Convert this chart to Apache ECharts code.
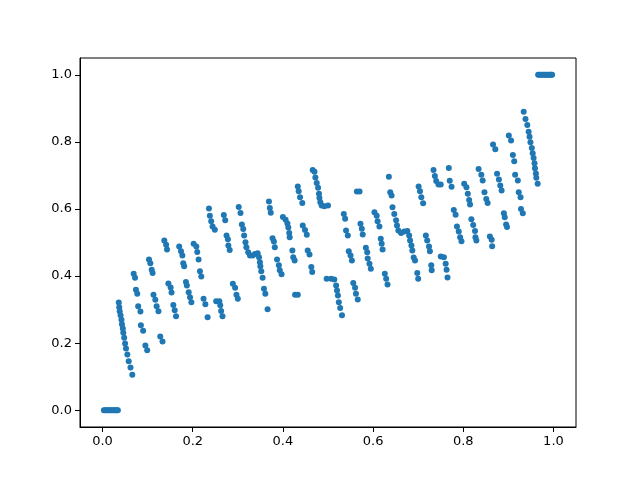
<!DOCTYPE html>
<html>
<head>
<meta charset="utf-8">
<script src="https://cdn.jsdelivr.net/npm/echarts@6/dist/echarts.min.js"></script>
<style>
    html, body {margin: 0; padding: 0; background: #fff;}
    #chart {width: 640px; height: 480px;}
</style>
</head>
<body>
<div id="chart"></div>
<script>
    // tick labels
    const xTicks = [0, 0.2, 0.4, 0.6, 0.8, 1.0];
    const yTicks = [0, 0.2, 0.4, 0.6, 0.8, 1.0];

    // bottom flat run + first steep drop
    const startPoints = [
        [0.003, 0], [0.006, 0], [0.009, 0], [0.012, 0], [0.015, 0], [0.018, 0],
        [0.021, 0], [0.024, 0], [0.027, 0], [0.030, 0], [0.032, 0], [0.034, 0],
        [0.036, 0.321], [0.037, 0.307], [0.038, 0.295], [0.040, 0.283], [0.042, 0.270],
        [0.043, 0.256], [0.045, 0.244], [0.046, 0.231], [0.048, 0.216], [0.050, 0.199],
        [0.052, 0.184], [0.055, 0.166], [0.058, 0.146], [0.062, 0.127], [0.066, 0.106]
    ];

    // middle clusters, left half
    const leftPoints = [
        [0.069, 0.407], [0.072, 0.395],
        [0.074, 0.359], [0.077, 0.347],
        [0.079, 0.310], [0.084, 0.294],
        [0.085, 0.253], [0.090, 0.237],
        [0.095, 0.193], [0.099, 0.179],
        [0.103, 0.449], [0.106, 0.438], [0.109, 0.419], [0.111, 0.409],
        [0.113, 0.344], [0.117, 0.329], [0.120, 0.310], [0.124, 0.295],
        [0.128, 0.220], [0.133, 0.205],
        [0.137, 0.506], [0.141, 0.493], [0.143, 0.479],
        [0.146, 0.378], [0.151, 0.366], [0.153, 0.351],
        [0.157, 0.314], [0.160, 0.298], [0.163, 0.280],
        [0.170, 0.488], [0.174, 0.474], [0.177, 0.461], [0.179, 0.438], [0.181, 0.429],
        [0.185, 0.382], [0.187, 0.372], [0.191, 0.352], [0.194, 0.337], [0.197, 0.322],
        [0.202, 0.496], [0.208, 0.488], [0.210, 0.472], [0.213, 0.449], [0.216, 0.414], [0.219, 0.399],
        [0.224, 0.332], [0.228, 0.316], [0.233, 0.277],
        [0.236, 0.601], [0.238, 0.580], [0.241, 0.563], [0.244, 0.548], [0.249, 0.538],
        [0.252, 0.325], [0.259, 0.325], [0.261, 0.313], [0.263, 0.296], [0.266, 0.280],
        [0.269, 0.582], [0.272, 0.566],
        [0.275, 0.521], [0.278, 0.510], [0.279, 0.491], [0.282, 0.478],
        [0.289, 0.377], [0.294, 0.365], [0.297, 0.344], [0.300, 0.332],
        [0.302, 0.606], [0.306, 0.588],
        [0.309, 0.554], [0.312, 0.540], [0.314, 0.521], [0.317, 0.501], [0.319, 0.486],
        [0.323, 0.471], [0.327, 0.461], [0.333, 0.461], [0.338, 0.466], [0.344, 0.468],
        [0.347, 0.456], [0.349, 0.441], [0.350, 0.429], [0.352, 0.414], [0.355, 0.395],
        [0.358, 0.362], [0.361, 0.347],
        [0.366, 0.301],
        [0.369, 0.622], [0.371, 0.603], [0.373, 0.589],
        [0.377, 0.513], [0.380, 0.503], [0.382, 0.486],
        [0.387, 0.449], [0.391, 0.432], [0.393, 0.417], [0.397, 0.405],
        [0.400, 0.576], [0.406, 0.568], [0.410, 0.557], [0.412, 0.545], [0.414, 0.528], [0.415, 0.516],
        [0.421, 0.476], [0.423, 0.456], [0.426, 0.446],
        [0.427, 0.344], [0.433, 0.344],
        [0.433, 0.667], [0.435, 0.653], [0.438, 0.635], [0.443, 0.618],
        [0.444, 0.551], [0.449, 0.537], [0.453, 0.523],
        [0.455, 0.476], [0.459, 0.464],
        [0.463, 0.427], [0.465, 0.412],
        [0.466, 0.716], [0.470, 0.711], [0.472, 0.694], [0.475, 0.677], [0.478, 0.663],
        [0.480, 0.645], [0.481, 0.633], [0.483, 0.620], [0.486, 0.610], [0.492, 0.608], [0.500, 0.610]
    ];

    // middle clusters, right half
    const rightPoints = [
        [0.497, 0.392], [0.507, 0.392], [0.514, 0.390], [0.518, 0.372], [0.520, 0.357],
        [0.522, 0.342], [0.524, 0.322], [0.527, 0.305], [0.531, 0.283],
        [0.535, 0.585], [0.538, 0.571],
        [0.540, 0.536], [0.544, 0.521],
        [0.546, 0.474], [0.550, 0.461], [0.553, 0.446],
        [0.556, 0.379], [0.560, 0.365], [0.562, 0.347], [0.566, 0.330],
        [0.564, 0.652], [0.570, 0.652],
        [0.572, 0.556], [0.575, 0.541], [0.577, 0.524],
        [0.584, 0.484], [0.587, 0.471], [0.588, 0.452], [0.592, 0.437], [0.595, 0.422],
        [0.603, 0.590], [0.608, 0.580], [0.610, 0.563], [0.614, 0.548],
        [0.617, 0.511], [0.619, 0.496], [0.621, 0.479],
        [0.626, 0.407], [0.629, 0.392], [0.632, 0.375],
        [0.635, 0.696],
        [0.638, 0.650], [0.641, 0.640],
        [0.643, 0.605], [0.647, 0.585], [0.651, 0.566], [0.653, 0.551], [0.656, 0.536],
        [0.662, 0.528], [0.669, 0.533], [0.676, 0.534], [0.680, 0.521], [0.682, 0.506],
        [0.685, 0.491], [0.687, 0.476], [0.690, 0.455], [0.693, 0.446],
        [0.698, 0.409], [0.700, 0.392],
        [0.701, 0.667], [0.704, 0.653], [0.707, 0.635], [0.711, 0.617],
        [0.717, 0.521], [0.720, 0.506], [0.724, 0.488], [0.726, 0.474],
        [0.729, 0.432], [0.730, 0.417],
        [0.734, 0.716], [0.737, 0.698], [0.740, 0.683], [0.745, 0.673], [0.750, 0.673],
        [0.750, 0.458], [0.757, 0.456], [0.761, 0.437], [0.763, 0.419], [0.765, 0.396],
        [0.768, 0.722], [0.770, 0.684], [0.774, 0.666],
        [0.779, 0.597], [0.783, 0.583],
        [0.786, 0.548], [0.790, 0.533], [0.793, 0.516], [0.796, 0.504],
        [0.802, 0.675], [0.807, 0.665], [0.810, 0.645], [0.813, 0.627], [0.815, 0.613],
        [0.818, 0.569], [0.822, 0.552], [0.826, 0.534], [0.827, 0.516], [0.829, 0.506],
        [0.834, 0.719], [0.840, 0.702], [0.843, 0.685],
        [0.847, 0.650], [0.851, 0.630], [0.854, 0.618],
        [0.859, 0.518], [0.863, 0.508], [0.864, 0.489],
        [0.866, 0.792], [0.871, 0.778],
        [0.875, 0.705], [0.879, 0.688], [0.882, 0.670], [0.885, 0.655],
        [0.890, 0.587], [0.892, 0.575], [0.895, 0.554], [0.897, 0.546],
        [0.901, 0.819], [0.906, 0.804],
        [0.910, 0.761], [0.913, 0.742],
        [0.915, 0.702], [0.921, 0.685],
        [0.923, 0.650], [0.927, 0.635],
        [0.928, 0.600], [0.932, 0.587]
    ];

    // last steep drop + top flat run
    const endPoints = [
        [0.934, 0.890], [0.938, 0.868], [0.942, 0.850], [0.945, 0.830], [0.947, 0.815],
        [0.949, 0.799], [0.952, 0.782], [0.954, 0.766], [0.956, 0.752], [0.958, 0.736],
        [0.959, 0.721], [0.961, 0.706], [0.962, 0.693], [0.965, 0.675],
        [0.966, 1], [0.969, 1], [0.972, 1], [0.975, 1], [0.978, 1], [0.981, 1],
        [0.984, 1], [0.987, 1], [0.990, 1], [0.993, 1], [0.995, 1], [0.997, 1]
    ];

    const points = startPoints.concat(leftPoints, rightPoints, endPoints);

    const labelFont = {color: '#000', fontSize: 13, fontFamily: 'DejaVu Sans'};

    let myChart = echarts.init(document.getElementById('chart'));
    myChart.setOption({
        animation: false,
        backgroundColor: '#fff',
        grid: {left: 80, right: 64, top: 58, bottom: 53, show: true, borderColor: '#000', borderWidth: 1},
        xAxis: {
            type: 'value',
            min: -0.05,
            max: 1.05,
            axisLine: {show: true, onZero: false, lineStyle: {color: '#000', width: 1}},
            splitLine: {show: false},
            axisTick: {show: true, customValues: xTicks, length: 5, lineStyle: {color: '#000'}},
            axisLabel: Object.assign({customValues: xTicks, margin: 8, formatter: v => v.toFixed(1)}, labelFont)
        },
        yAxis: {
            type: 'value',
            min: -0.05,
            max: 1.05,
            axisLine: {show: true, onZero: false, lineStyle: {color: '#000', width: 1}},
            splitLine: {show: false},
            axisTick: {show: true, customValues: yTicks, length: 5, lineStyle: {color: '#000'}},
            axisLabel: Object.assign({customValues: yTicks, margin: 8, formatter: v => v.toFixed(1)}, labelFont)
        },
        series: [
            {
                type: 'scatter',
                data: points,
                symbolSize: 6,
                itemStyle: {color: '#1f77b4', opacity: 1}
            }
        ]
    });
</script>
</body>
</html>
